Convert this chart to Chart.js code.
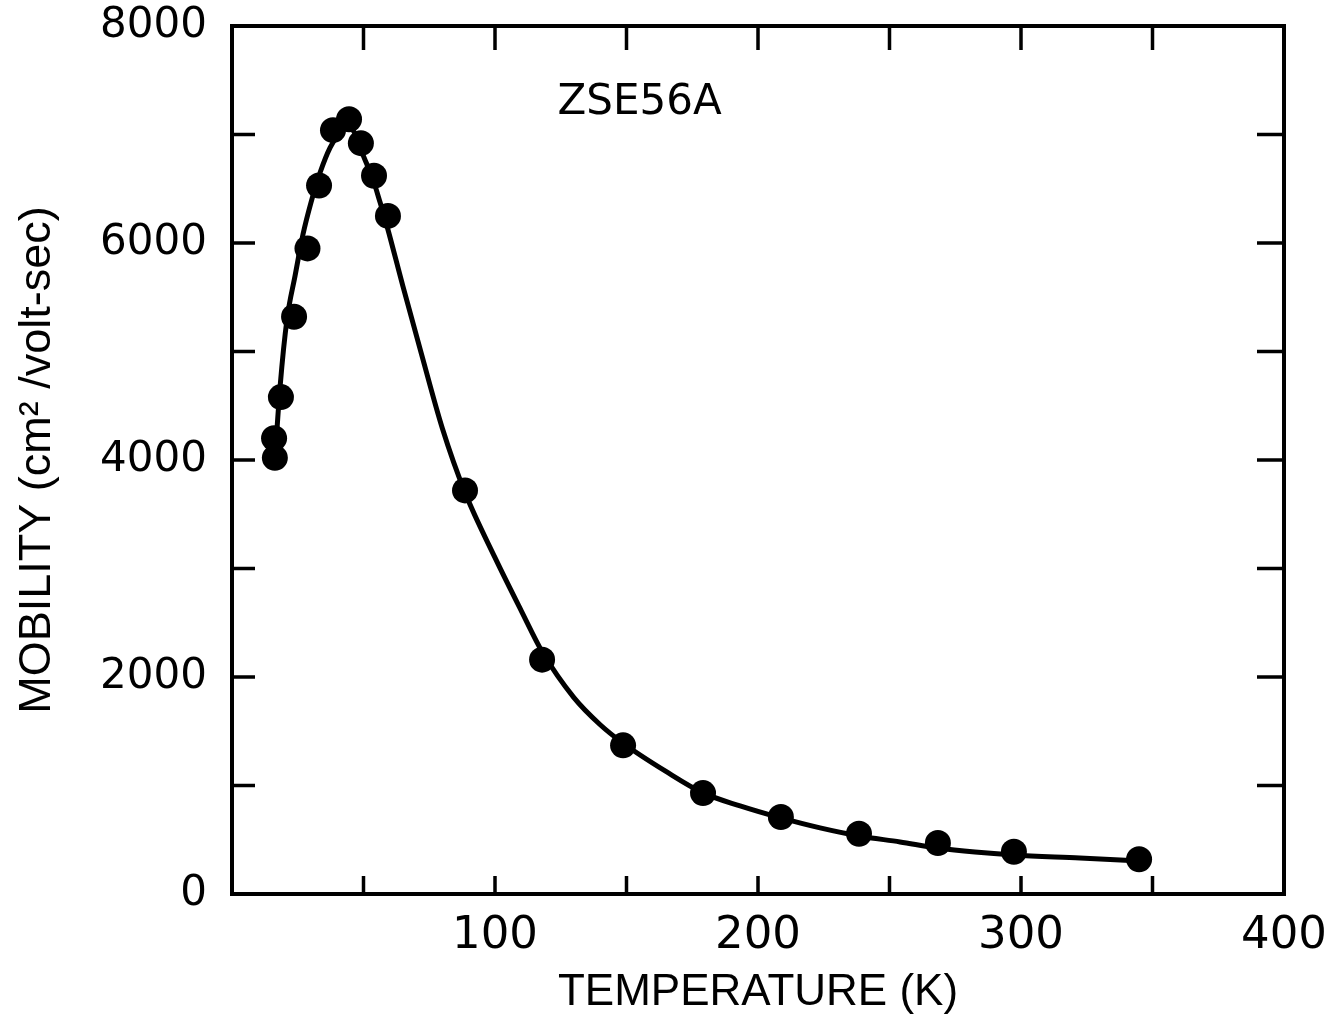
<!DOCTYPE html>
<html>

<head>
  <title>ZSE56A mobility</title>
  <style>
    body { margin: 0; background: #fff; }
  </style>
</head>

<body>
  <canvas id="chart" width="1344" height="1017"></canvas>
  <script src="https://cdn.jsdelivr.net/npm/chart.js"></script>
  <script>
    // measured points (temperature K, mobility cm2/volt-sec)
    const pointT = [16.3, 16.0, 18.6, 23.6, 28.7, 33.1, 38.4, 44.5, 49.0, 54.0, 59.3, 88.6, 117.9, 148.7, 179.1, 208.7, 238.4, 268.4, 297.3, 344.9];
    const pointMu = [4020, 4200, 4580, 5320, 5950, 6530, 7040, 7140, 6920, 6620, 6250, 3720, 2160, 1370, 930, 710, 555, 470, 390, 320];

    // fitted curve
    const curveT = [16.3, 18.3, 20.9, 24.0, 27.0, 30.0, 33.5, 37.3, 41.1, 44.1, 47.5, 50.0, 53.2, 56.3, 59.0, 65.0, 72.0, 80.0, 88.6, 100.0, 110.0, 118.0, 130.0, 140.0, 148.7, 165.0, 179.1, 193.2, 208.7, 223.6, 238.4, 254.0, 268.4, 282.5, 297.3, 322.4, 345.2];
    const curveMu = [4000, 4680, 5295, 5700, 6080, 6370, 6650, 6880, 7020, 7076, 6975, 6800, 6615, 6375, 6150, 5600, 4980, 4290, 3700, 3100, 2610, 2230, 1810, 1560, 1390, 1130, 932, 812, 701, 609, 535, 480, 424, 387, 360, 332, 304];

    const xTicks = [0, 50, 100, 150, 200, 250, 300, 350, 400];
    const xLabels = [100, 200, 300, 400];
    const yLabels = [0, 2000, 4000, 6000, 8000];
    const sampleName = 'ZSE56A';

    // frame, inward ticks and the sample label
    const frame = {
      id: 'frame',
      beforeDatasetsDraw(chart) {
        const { ctx, chartArea: a, scales: { x, y } } = chart;
        ctx.save();
        ctx.strokeStyle = '#000';
        ctx.lineWidth = 4;
        ctx.strokeRect(a.left, a.top, a.right - a.left, a.bottom - a.top);
        ctx.lineWidth = 3.5;
        ctx.beginPath();
        x.ticks.forEach((t) => {
          const px = x.getPixelForValue(t.value);
          if (t.value <= 0 || t.value >= 400) return;
          ctx.moveTo(px, a.bottom);
          ctx.lineTo(px, a.bottom - 18);
          ctx.moveTo(px, a.top);
          ctx.lineTo(px, a.top + 24);
        });
        y.ticks.forEach((t) => {
          const py = y.getPixelForValue(t.value);
          if (t.value <= 0 || t.value >= 8000) return;
          ctx.moveTo(a.left, py);
          ctx.lineTo(a.left + 23, py);
          ctx.moveTo(a.right, py);
          ctx.lineTo(a.right - 27, py);
        });
        ctx.stroke();

        ctx.fillStyle = '#000';
        ctx.font = '42px "DejaVu Sans"';
        ctx.textAlign = 'center';
        ctx.textBaseline = 'middle';
        ctx.fillText(sampleName, x.getPixelForValue(155), y.getPixelForValue(7290));
        ctx.restore();
      }
    };

    const ctx = document.getElementById('chart').getContext('2d');
    new Chart(ctx, {
      data: {
        datasets: [
          {
            type: 'scatter',
            data: pointT.map((t, i) => ({ x: t, y: pointMu[i] })),
            pointRadius: 13,
            pointBackgroundColor: '#000',
            pointBorderColor: '#000',
            pointBorderWidth: 0,
            showLine: false
          },
          {
            type: 'line',
            data: curveT.map((t, i) => ({ x: t, y: curveMu[i] })),
            borderColor: '#000',
            borderWidth: 5,
            pointRadius: 0,
            cubicInterpolationMode: 'monotone',
            fill: false
          }
        ]
      },
      options: {
        responsive: false,
        animation: false,
        layout: { padding: { left: 0, top: 26, right: 60, bottom: 0 } },
        plugins: { legend: { display: false }, tooltip: { enabled: false } },
        scales: {
          x: {
            type: 'linear',
            min: 0,
            max: 400,
            afterBuildTicks: (s) => { s.ticks = xTicks.map((v) => ({ value: v })); },
            afterFit: (s) => { s.height = 123; },
            grid: { display: false, drawTicks: false },
            border: { display: false },
            ticks: {
              autoSkip: false,
              maxRotation: 0,
              padding: 15,
              color: '#000',
              font: { family: 'DejaVu Sans', size: 45 },
              callback: (v) => (xLabels.includes(v) ? String(v) : '')
            },
            title: {
              display: true,
              text: 'TEMPERATURE (K)',
              color: '#000',
              padding: { top: 0, bottom: 2 },
              font: { family: 'Liberation Sans', size: 44, lineHeight: 1 }
            }
          },
          y: {
            type: 'linear',
            min: 0,
            max: 8000,
            afterBuildTicks: (s) => {
              const t = [];
              for (let v = 0; v <= 8000; v += 1000) t.push({ value: v });
              s.ticks = t;
            },
            afterFit: (s) => { s.width = 232; },
            grid: { display: false, drawTicks: true, tickLength: 25 },
            border: { display: false },
            ticks: {
              autoSkip: false,
              padding: 0,
              color: '#000',
              font: { family: 'DejaVu Sans', size: 42 },
              callback: (v) => (yLabels.includes(v) ? String(v) : '')
            },
            title: {
              display: true,
              text: 'MOBILITY (cm² /volt-sec)',
              color: '#000',
              padding: { top: 15, bottom: 0 },
              font: { family: 'Liberation Sans', size: 45, lineHeight: 1 }
            }
          }
        }
      },
      plugins: [frame]
    });
  </script>
</body>

</html>
